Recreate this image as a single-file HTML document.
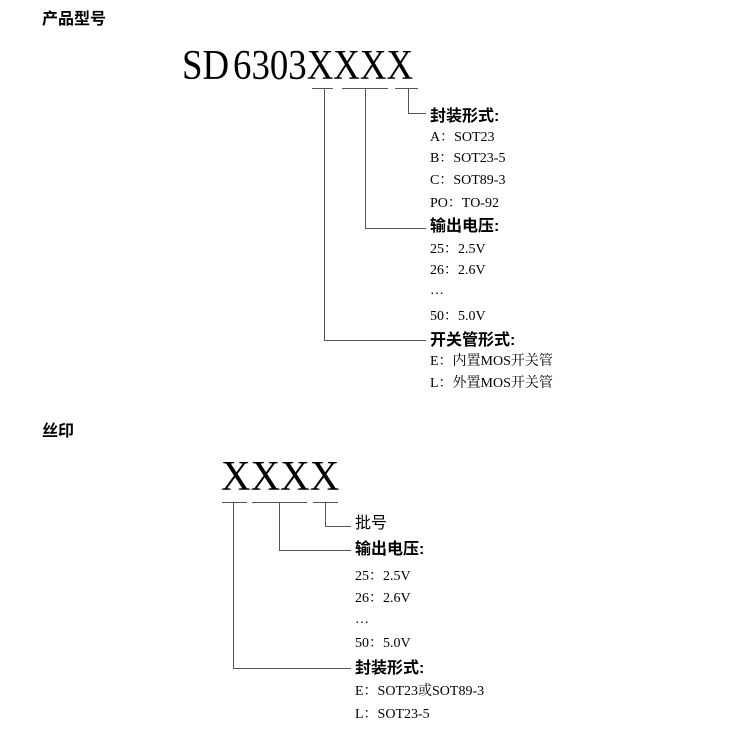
<!DOCTYPE html>
<html><head><meta charset="utf-8"><style>
body{margin:0;width:743px;height:743px;background:#fff;position:relative;overflow:hidden;font-family:"Liberation Serif","Noto Serif CJK SC",serif;color:#000}
.t{position:absolute;line-height:20px;height:20px;white-space:nowrap;font-size:14px}
.h{font-family:"Liberation Sans","Noto Sans CJK SC",sans-serif;font-weight:bold;font-size:16px}
.big{position:absolute;font-size:42px;line-height:42px;white-space:nowrap;transform-origin:0 0}
.l{position:absolute;background:#555}
</style></head><body>
<div class="t h" style="left:42px;top:10px">产品型号</div>
<div class="big" style="left:182px;top:45px;transform:scaleX(0.877);word-spacing:-6px">SD 6303XXXX</div>
<div class="l" style="left:312px;top:88px;width:21px;height:1px"></div>
<div class="l" style="left:342px;top:88px;width:46px;height:1px"></div>
<div class="l" style="left:395px;top:88px;width:23px;height:1px"></div>
<div class="l" style="left:408px;top:88px;width:1px;height:26px"></div>
<div class="l" style="left:408px;top:113px;width:18px;height:1px"></div>
<div class="l" style="left:365px;top:88px;width:1px;height:141px"></div>
<div class="l" style="left:365px;top:228px;width:61px;height:1px"></div>
<div class="l" style="left:324px;top:88px;width:1px;height:253px"></div>
<div class="l" style="left:324px;top:340px;width:102px;height:1px"></div>
<div class="t h" style="left:430px;top:107px">封装形式:</div>
<div class="t" style="left:430px;top:128px">A：SOT23</div>
<div class="t" style="left:430px;top:149px">B：SOT23-5</div>
<div class="t" style="left:430px;top:171px">C：SOT89-3</div>
<div class="t" style="left:430px;top:194px">PO：TO-92</div>
<div class="t h" style="left:430px;top:217px">输出电压:</div>
<div class="t" style="left:430px;top:240px">25：2.5V</div>
<div class="t" style="left:430px;top:261px">26：2.6V</div>
<div class="t" style="left:430px;top:281px">…</div>
<div class="t" style="left:430px;top:307px">50：5.0V</div>
<div class="t h" style="left:430px;top:331px">开关管形式:</div>
<div class="t" style="left:430px;top:352px">E：内置MOS开关管</div>
<div class="t" style="left:430px;top:374px">L：外置MOS开关管</div>

<div class="t h" style="left:42px;top:422px">丝印</div>
<div class="big" style="left:221px;top:456px;transform:scaleX(0.975)">XXXX</div>
<div class="l" style="left:222px;top:502px;width:25px;height:1px"></div>
<div class="l" style="left:252px;top:502px;width:55px;height:1px"></div>
<div class="l" style="left:313px;top:502px;width:25px;height:1px"></div>
<div class="l" style="left:325px;top:502px;width:1px;height:25px"></div>
<div class="l" style="left:325px;top:526px;width:26px;height:1px"></div>
<div class="l" style="left:279px;top:502px;width:1px;height:49px"></div>
<div class="l" style="left:279px;top:550px;width:72px;height:1px"></div>
<div class="l" style="left:233px;top:502px;width:1px;height:167px"></div>
<div class="l" style="left:233px;top:668px;width:118px;height:1px"></div>
<div class="t" style="left:355px;top:514px;font-size:16px;font-family:'Liberation Sans','Noto Sans CJK SC',sans-serif">批号</div>
<div class="t h" style="left:355px;top:540px">输出电压:</div>
<div class="t" style="left:355px;top:567px">25：2.5V</div>
<div class="t" style="left:355px;top:589px">26：2.6V</div>
<div class="t" style="left:355px;top:610px">…</div>
<div class="t" style="left:355px;top:634px">50：5.0V</div>
<div class="t h" style="left:355px;top:659px">封装形式:</div>
<div class="t" style="left:355px;top:682px">E：SOT23或SOT89-3</div>
<div class="t" style="left:355px;top:705px">L：SOT23-5</div>
</body></html>
